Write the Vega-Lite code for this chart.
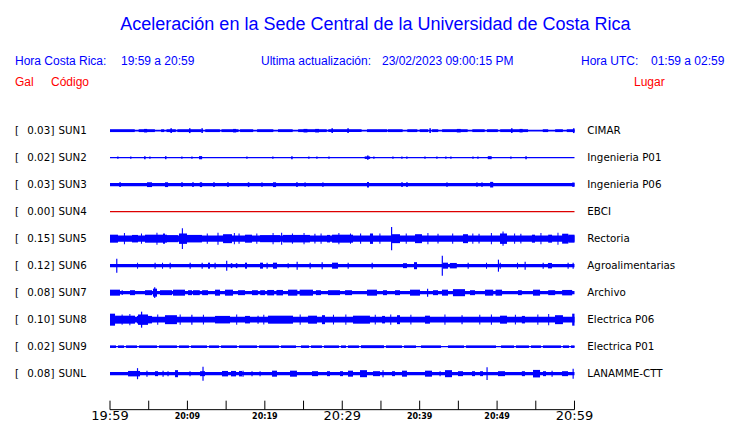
{
"$schema": "https://vega.github.io/schema/vega-lite/v6.json",
"width": 740, "height": 423, "padding": 0, "autosize": {"type": "none"},
"background": "white",
"config": {"view": {"stroke": null}},
"datasets": {
"info": [{"hora_cr": "19:59 a 20:59", "actualizacion": "23/02/2023 09:00:15 PM", "hora_utc": "01:59 a 02:59"}],
"estaciones": [
{"s": "SUN1", "gal": 0.03, "lugar": "CIMAR", "r": 1, "estado": "activa"},
{"s": "SUN2", "gal": 0.02, "lugar": "Ingenieria P01", "r": 2, "estado": "activa"},
{"s": "SUN3", "gal": 0.03, "lugar": "Ingenieria P06", "r": 3, "estado": "activa"},
{"s": "SUN4", "gal": 0.00, "lugar": "EBCI", "r": 4, "estado": "sin señal"},
{"s": "SUN5", "gal": 0.15, "lugar": "Rectoria", "r": 5, "estado": "activa"},
{"s": "SUN6", "gal": 0.12, "lugar": "Agroalimentarias", "r": 6, "estado": "activa"},
{"s": "SUN7", "gal": 0.08, "lugar": "Archivo", "r": 7, "estado": "activa"},
{"s": "SUN8", "gal": 0.10, "lugar": "Electrica P06", "r": 8, "estado": "activa"},
{"s": "SUN9", "gal": 0.02, "lugar": "Electrica P01", "r": 9, "estado": "activa"},
{"s": "SUNL", "gal": 0.08, "lugar": "LANAMME-CTT", "r": 10, "estado": "activa"}
],
"marcas": [
{"t": 0, "h": "19:59", "tipo": "mayor"}, {"t": 5, "h": "", "tipo": "menor"},
{"t": 10, "h": "20:09", "tipo": "etiqueta"}, {"t": 15, "h": "", "tipo": "menor"},
{"t": 20, "h": "20:19", "tipo": "etiqueta"}, {"t": 25, "h": "", "tipo": "menor"},
{"t": 30, "h": "20:29", "tipo": "mayor"}, {"t": 35, "h": "", "tipo": "menor"},
{"t": 40, "h": "20:39", "tipo": "etiqueta"}, {"t": 45, "h": "", "tipo": "menor"},
{"t": 50, "h": "20:49", "tipo": "etiqueta"}, {"t": 55, "h": "", "tipo": "menor"},
{"t": 60, "h": "20:59", "tipo": "mayor"}
],
"segmentos": [
{"s":"SUN1","t0":0,"t1":60,"a":0.011},
{"s":"SUN1","t0":0,"t1":3.2,"a":0.0175},{"s":"SUN1","t0":3.7,"t1":5.8,"a":0.0175},{"s":"SUN1","t0":6.6,"t1":7.0,"a":0.0175},
{"s":"SUN1","t0":7.3,"t1":8.5,"a":0.0175},{"s":"SUN1","t0":8.7,"t1":11.8,"a":0.0175},{"s":"SUN1","t0":12.3,"t1":14.2,"a":0.0175},
{"s":"SUN1","t0":14.4,"t1":16.6,"a":0.0175},{"s":"SUN1","t0":16.8,"t1":18.5,"a":0.0175},{"s":"SUN1","t0":19,"t1":21.1,"a":0.0175},
{"s":"SUN1","t0":21.7,"t1":23.6,"a":0.0175},{"s":"SUN1","t0":24.3,"t1":28,"a":0.0175},{"s":"SUN1","t0":28.2,"t1":32.5,"a":0.0175},
{"s":"SUN1","t0":33.2,"t1":35.8,"a":0.0175},{"s":"SUN1","t0":35.9,"t1":37.8,"a":0.0175},{"s":"SUN1","t0":38.4,"t1":39.7,"a":0.0175},
{"s":"SUN1","t0":40,"t1":41.1,"a":0.0175},{"s":"SUN1","t0":41.6,"t1":42.4,"a":0.0175},{"s":"SUN1","t0":42.9,"t1":46.2,"a":0.0175},
{"s":"SUN1","t0":46.8,"t1":48.4,"a":0.0175},{"s":"SUN1","t0":48.7,"t1":50.1,"a":0.0175},{"s":"SUN1","t0":50.4,"t1":54,"a":0.0175},
{"s":"SUN1","t0":55.9,"t1":56.6,"a":0.0175},{"s":"SUN1","t0":57.5,"t1":58.5,"a":0.0175},{"s":"SUN1","t0":59,"t1":60,"a":0.0175},
{"s":"SUN1","t0":7.8,"t1":8.0,"a":0.03},{"s":"SUN1","t0":10.2,"t1":10.4,"a":0.03},{"s":"SUN1","t0":11.8,"t1":12.0,"a":0.03},
{"s":"SUN1","t0":28.6,"t1":28.8,"a":0.03},{"s":"SUN1","t0":30.65,"t1":30.85,"a":0.03},{"s":"SUN1","t0":41.25,"t1":41.45,"a":0.03},
{"s":"SUN1","t0":51.8,"t1":52.0,"a":0.03},{"s":"SUN1","t0":59.8,"t1":60,"a":0.03},
{"s":"SUN1","t0":4.4,"t1":4.8,"a":0.022},{"s":"SUN1","t0":15.9,"t1":16.3,"a":0.022},{"s":"SUN1","t0":25,"t1":25.5,"a":0.022},
{"s":"SUN1","t0":44.8,"t1":45.3,"a":0.022},{"s":"SUN1","t0":52.9,"t1":53.3,"a":0.022},{"s":"SUN1","t0":26.5,"t1":27,"a":0.022},

{"s":"SUN2","t0":0,"t1":60,"a":0.007},
{"s":"SUN2","t0":0.93,"t1":1.1,"a":0.014},{"s":"SUN2","t0":2.6,"t1":2.77,"a":0.014},{"s":"SUN2","t0":4.4,"t1":4.6,"a":0.019},
{"s":"SUN2","t0":5.07,"t1":5.24,"a":0.014},{"s":"SUN2","t0":7.1,"t1":7.3,"a":0.019},{"s":"SUN2","t0":9.2,"t1":9.37,"a":0.014},
{"s":"SUN2","t0":10.5,"t1":10.67,"a":0.014},{"s":"SUN2","t0":11.5,"t1":11.9,"a":0.02},{"s":"SUN2","t0":17.6,"t1":17.77,"a":0.014},
{"s":"SUN2","t0":20.95,"t1":21.12,"a":0.014},{"s":"SUN2","t0":23.4,"t1":23.6,"a":0.019},{"s":"SUN2","t0":25.6,"t1":25.77,"a":0.014},
{"s":"SUN2","t0":26.64,"t1":26.81,"a":0.014},{"s":"SUN2","t0":28.2,"t1":28.37,"a":0.014},{"s":"SUN2","t0":32.9,"t1":33.6,"a":0.016},
{"s":"SUN2","t0":33.2,"t1":33.4,"a":0.026},{"s":"SUN2","t0":34,"t1":34.17,"a":0.014},{"s":"SUN2","t0":36.46,"t1":36.63,"a":0.014},
{"s":"SUN2","t0":37.62,"t1":37.79,"a":0.014},{"s":"SUN2","t0":38.26,"t1":38.43,"a":0.014},{"s":"SUN2","t0":40.6,"t1":40.77,"a":0.014},
{"s":"SUN2","t0":42.14,"t1":42.31,"a":0.014},{"s":"SUN2","t0":43.3,"t1":43.47,"a":0.014},{"s":"SUN2","t0":43.95,"t1":44.12,"a":0.014},
{"s":"SUN2","t0":46.8,"t1":46.97,"a":0.014},{"s":"SUN2","t0":47.44,"t1":47.61,"a":0.014},{"s":"SUN2","t0":48.8,"t1":49.3,"a":0.019},
{"s":"SUN2","t0":51.7,"t1":51.87,"a":0.014},{"s":"SUN2","t0":53.64,"t1":53.84,"a":0.019},

{"s":"SUN3","t0":0,"t1":60,"a":0.021},
{"s":"SUN3","t0":1.2,"t1":1.4,"a":0.03},{"s":"SUN3","t0":4.78,"t1":5.43,"a":0.03},{"s":"SUN3","t0":7.1,"t1":7.5,"a":0.03},
{"s":"SUN3","t0":9.2,"t1":9.4,"a":0.03},{"s":"SUN3","t0":10.62,"t1":10.82,"a":0.03},{"s":"SUN3","t0":11.6,"t1":11.9,"a":0.03},
{"s":"SUN3","t0":13.33,"t1":13.53,"a":0.03},{"s":"SUN3","t0":15.14,"t1":15.34,"a":0.03},{"s":"SUN3","t0":17.8,"t1":18,"a":0.03},
{"s":"SUN3","t0":19.53,"t1":19.73,"a":0.026},{"s":"SUN3","t0":21.05,"t1":21.45,"a":0.03},{"s":"SUN3","t0":24.05,"t1":24.25,"a":0.03},
{"s":"SUN3","t0":25.1,"t1":25.3,"a":0.027},{"s":"SUN3","t0":27.4,"t1":27.6,"a":0.027},{"s":"SUN3","t0":33.2,"t1":33.45,"a":0.035},
{"s":"SUN3","t0":37.62,"t1":37.82,"a":0.03},{"s":"SUN3","t0":38.26,"t1":38.46,"a":0.03},{"s":"SUN3","t0":43.43,"t1":43.63,"a":0.027},
{"s":"SUN3","t0":47.3,"t1":47.5,"a":0.027},{"s":"SUN3","t0":47.95,"t1":48.15,"a":0.027},{"s":"SUN3","t0":49.1,"t1":49.5,"a":0.035},
{"s":"SUN3","t0":59.7,"t1":60,"a":0.027},

{"s":"SUN4","t0":0,"t1":60,"a":0.008},

{"s":"SUN5","t0":0,"t1":60,"a":0.04},
{"s":"SUN5","t0":0,"t1":1.03,"a":0.05},{"s":"SUN5","t0":2.84,"t1":3.62,"a":0.047},{"s":"SUN5","t0":4.52,"t1":7.36,"a":0.05},
{"s":"SUN5","t0":6.85,"t1":7.1,"a":0.065},{"s":"SUN5","t0":7.36,"t1":8.78,"a":0.044},{"s":"SUN5","t0":8.91,"t1":9.95,"a":0.065},
{"s":"SUN5","t0":9.28,"t1":9.42,"a":0.13},{"s":"SUN5","t0":9.95,"t1":11.88,"a":0.047},{"s":"SUN5","t0":13.88,"t1":14.02,"a":0.075},
{"s":"SUN5","t0":14.6,"t1":15.76,"a":0.056},{"s":"SUN5","t0":16.6,"t1":16.74,"a":0.065},{"s":"SUN5","t0":17.44,"t1":18.34,"a":0.05},
{"s":"SUN5","t0":19.38,"t1":21.96,"a":0.044},{"s":"SUN5","t0":22.1,"t1":22.24,"a":0.075},{"s":"SUN5","t0":22.35,"t1":25.83,"a":0.047},
{"s":"SUN5","t0":26.4,"t1":26.54,"a":0.06},{"s":"SUN5","t0":28.03,"t1":28.42,"a":0.047},{"s":"SUN5","t0":28.68,"t1":31.39,"a":0.05},
{"s":"SUN5","t0":32.3,"t1":32.44,"a":0.065},{"s":"SUN5","t0":33.58,"t1":33.97,"a":0.065},{"s":"SUN5","t0":36.3,"t1":36.45,"a":0.146},
{"s":"SUN5","t0":36.43,"t1":37.46,"a":0.056},{"s":"SUN5","t0":39.4,"t1":40.3,"a":0.056},{"s":"SUN5","t0":42.3,"t1":42.44,"a":0.06},
{"s":"SUN5","t0":45.6,"t1":46.24,"a":0.056},{"s":"SUN5","t0":47.6,"t1":47.74,"a":0.06},{"s":"SUN5","t0":50.38,"t1":51.28,"a":0.065},
{"s":"SUN5","t0":50.7,"t1":50.84,"a":0.09},{"s":"SUN5","t0":53,"t1":53.14,"a":0.06},{"s":"SUN5","t0":54.5,"t1":54.9,"a":0.05},
{"s":"SUN5","t0":56.6,"t1":57.1,"a":0.05},{"s":"SUN5","t0":58.4,"t1":59.2,"a":0.062},{"s":"SUN5","t0":59.2,"t1":60,"a":0.05},
{"s":"SUN5","t0":1.8,"t1":1.93,"a":0.07},{"s":"SUN5","t0":4.0,"t1":4.13,"a":0.065},{"s":"SUN5","t0":6.0,"t1":6.13,"a":0.075},
{"s":"SUN5","t0":12.5,"t1":12.63,"a":0.065},{"s":"SUN5","t0":16.0,"t1":16.13,"a":0.07},{"s":"SUN5","t0":18.9,"t1":19.03,"a":0.065},
{"s":"SUN5","t0":21.0,"t1":21.13,"a":0.07},{"s":"SUN5","t0":23.5,"t1":23.63,"a":0.065},{"s":"SUN5","t0":25.0,"t1":25.13,"a":0.07},
{"s":"SUN5","t0":27.2,"t1":27.33,"a":0.065},{"s":"SUN5","t0":29.5,"t1":29.63,"a":0.07},{"s":"SUN5","t0":31.0,"t1":31.13,"a":0.065},
{"s":"SUN5","t0":34.8,"t1":34.93,"a":0.065},{"s":"SUN5","t0":38.2,"t1":38.33,"a":0.065},{"s":"SUN5","t0":41.0,"t1":41.13,"a":0.07},
{"s":"SUN5","t0":44.2,"t1":44.33,"a":0.065},{"s":"SUN5","t0":46.8,"t1":46.93,"a":0.065},{"s":"SUN5","t0":49.2,"t1":49.33,"a":0.07},
{"s":"SUN5","t0":52.2,"t1":52.33,"a":0.065},{"s":"SUN5","t0":55.6,"t1":55.73,"a":0.07},{"s":"SUN5","t0":57.8,"t1":57.93,"a":0.075},

{"s":"SUN6","t0":0,"t1":60,"a":0.021},
{"s":"SUN6","t0":0.8,"t1":0.95,"a":0.088},{"s":"SUN6","t0":15.0,"t1":15.15,"a":0.062},{"s":"SUN6","t0":42.85,"t1":43.0,"a":0.125},
{"s":"SUN6","t0":50.1,"t1":50.25,"a":0.075},{"s":"SUN6","t0":53.55,"t1":53.7,"a":0.05},
{"s":"SUN6","t0":3.5,"t1":3.62,"a":0.0375},{"s":"SUN6","t0":5.75,"t1":5.9,"a":0.0375},{"s":"SUN6","t0":6.72,"t1":6.85,"a":0.0375},
{"s":"SUN6","t0":7.7,"t1":7.85,"a":0.0375},{"s":"SUN6","t0":10.28,"t1":10.43,"a":0.0375},{"s":"SUN6","t0":11.83,"t1":11.98,"a":0.0375},
{"s":"SUN6","t0":12.66,"t1":12.92,"a":0.0375},{"s":"SUN6","t0":13.5,"t1":13.65,"a":0.0375},{"s":"SUN6","t0":15.6,"t1":15.8,"a":0.031},
{"s":"SUN6","t0":16.25,"t1":16.45,"a":0.031},{"s":"SUN6","t0":17.44,"t1":17.7,"a":0.0375},{"s":"SUN6","t0":19.38,"t1":19.76,"a":0.0375},
{"s":"SUN6","t0":20.22,"t1":20.37,"a":0.0375},{"s":"SUN6","t0":21.05,"t1":21.57,"a":0.0375},{"s":"SUN6","t0":22.94,"t1":23.09,"a":0.031},
{"s":"SUN6","t0":24.1,"t1":24.25,"a":0.05},{"s":"SUN6","t0":25.78,"t1":25.93,"a":0.0375},{"s":"SUN6","t0":27.33,"t1":27.48,"a":0.044},
{"s":"SUN6","t0":28.68,"t1":29.45,"a":0.0375},{"s":"SUN6","t0":30.69,"t1":30.84,"a":0.0375},{"s":"SUN6","t0":33.79,"t1":33.94,"a":0.0375},
{"s":"SUN6","t0":37.85,"t1":38.36,"a":0.031},{"s":"SUN6","t0":39.27,"t1":39.66,"a":0.044},{"s":"SUN6","t0":43.01,"t1":43.66,"a":0.0375},
{"s":"SUN6","t0":43.9,"t1":44.8,"a":0.034},{"s":"SUN6","t0":46.19,"t1":46.34,"a":0.0375},{"s":"SUN6","t0":48.57,"t1":48.7,"a":0.0375},
{"s":"SUN6","t0":50.33,"t1":50.48,"a":0.0375},{"s":"SUN6","t0":52.57,"t1":52.7,"a":0.0375},{"s":"SUN6","t0":55.88,"t1":56.03,"a":0.0375},
{"s":"SUN6","t0":56.57,"t1":57.09,"a":0.034},{"s":"SUN6","t0":59.1,"t1":59.25,"a":0.0375},{"s":"SUN6","t0":59.75,"t1":59.9,"a":0.0375},

{"s":"SUN7","t0":0,"t1":60,"a":0.02},
{"s":"SUN7","t0":0,"t1":1.29,"a":0.0375},{"s":"SUN7","t0":1.5,"t1":1.65,"a":0.03},{"s":"SUN7","t0":2.58,"t1":3.23,"a":0.031},
{"s":"SUN7","t0":4.52,"t1":5.43,"a":0.031},{"s":"SUN7","t0":5.55,"t1":6.07,"a":0.05},{"s":"SUN7","t0":5.7,"t1":5.85,"a":0.067},
{"s":"SUN7","t0":6.46,"t1":8.01,"a":0.031},{"s":"SUN7","t0":8.14,"t1":9.69,"a":0.0375},{"s":"SUN7","t0":10.08,"t1":10.59,"a":0.031},
{"s":"SUN7","t0":10.72,"t1":11.6,"a":0.031},{"s":"SUN7","t0":11.9,"t1":12.66,"a":0.031},{"s":"SUN7","t0":13.56,"t1":14.21,"a":0.0375},
{"s":"SUN7","t0":14.85,"t1":15.89,"a":0.0375},{"s":"SUN7","t0":16.53,"t1":17.44,"a":0.031},{"s":"SUN7","t0":18.34,"t1":19.1,"a":0.031},
{"s":"SUN7","t0":19.4,"t1":20.02,"a":0.031},{"s":"SUN7","t0":20.3,"t1":21.2,"a":0.034},{"s":"SUN7","t0":21.5,"t1":22.35,"a":0.034},
{"s":"SUN7","t0":22.99,"t1":24.2,"a":0.0375},{"s":"SUN7","t0":24.5,"t1":26.22,"a":0.0375},{"s":"SUN7","t0":26.6,"t1":27.25,"a":0.031},
{"s":"SUN7","t0":28.16,"t1":29.71,"a":0.031},{"s":"SUN7","t0":30.36,"t1":31.26,"a":0.031},{"s":"SUN7","t0":33.2,"t1":34.49,"a":0.0375},
{"s":"SUN7","t0":35.26,"t1":35.78,"a":0.031},{"s":"SUN7","t0":36.81,"t1":37.46,"a":0.031},{"s":"SUN7","t0":38.75,"t1":40.04,"a":0.0375},
{"s":"SUN7","t0":40.95,"t1":41.1,"a":0.05},{"s":"SUN7","t0":41.72,"t1":42.37,"a":0.031},{"s":"SUN7","t0":42.88,"t1":43.66,"a":0.0375},
{"s":"SUN7","t0":44.3,"t1":45.86,"a":0.044},{"s":"SUN7","t0":46.5,"t1":47.15,"a":0.031},{"s":"SUN7","t0":48.44,"t1":49.5,"a":0.0375},
{"s":"SUN7","t0":49.8,"t1":50.64,"a":0.0375},{"s":"SUN7","t0":52.7,"t1":53.2,"a":0.031},{"s":"SUN7","t0":54.64,"t1":55.55,"a":0.0375},
{"s":"SUN7","t0":56.6,"t1":57.5,"a":0.031},{"s":"SUN7","t0":58.4,"t1":59.7,"a":0.034},

{"s":"SUN8","t0":0,"t1":60,"a":0.036},
{"s":"SUN8","t0":0,"t1":0.65,"a":0.075},{"s":"SUN8","t0":0.65,"t1":3.23,"a":0.05},{"s":"SUN8","t0":3.49,"t1":5.43,"a":0.047},
{"s":"SUN8","t0":3.62,"t1":4.91,"a":0.065},{"s":"SUN8","t0":4.0,"t1":4.16,"a":0.1},{"s":"SUN8","t0":7.1,"t1":8.65,"a":0.056},
{"s":"SUN8","t0":10.5,"t1":10.65,"a":0.0625},{"s":"SUN8","t0":13.56,"t1":15.5,"a":0.047},{"s":"SUN8","t0":17.44,"t1":18.08,"a":0.047},
{"s":"SUN8","t0":19.05,"t1":19.2,"a":0.05},{"s":"SUN8","t0":20.41,"t1":23.64,"a":0.05},{"s":"SUN8","t0":25.58,"t1":26.74,"a":0.05},
{"s":"SUN8","t0":27.38,"t1":27.77,"a":0.056},{"s":"SUN8","t0":31.39,"t1":33.58,"a":0.05},{"s":"SUN8","t0":35.14,"t1":35.52,"a":0.047},
{"s":"SUN8","t0":37.07,"t1":37.46,"a":0.056},{"s":"SUN8","t0":40.69,"t1":41.33,"a":0.05},{"s":"SUN8","t0":45.4,"t1":45.55,"a":0.056},
{"s":"SUN8","t0":50.38,"t1":51.28,"a":0.05},{"s":"SUN8","t0":53.2,"t1":53.6,"a":0.047},{"s":"SUN8","t0":57.48,"t1":58.51,"a":0.056},
{"s":"SUN8","t0":59.7,"t1":60,"a":0.075},
{"s":"SUN8","t0":1.5,"t1":1.63,"a":0.065},{"s":"SUN8","t0":2.5,"t1":2.63,"a":0.07},{"s":"SUN8","t0":6.1,"t1":6.23,"a":0.065},
{"s":"SUN8","t0":9.0,"t1":9.13,"a":0.065},{"s":"SUN8","t0":12.0,"t1":12.13,"a":0.06},{"s":"SUN8","t0":16.3,"t1":16.43,"a":0.065},
{"s":"SUN8","t0":19.8,"t1":19.93,"a":0.06},{"s":"SUN8","t0":24.5,"t1":24.63,"a":0.065},{"s":"SUN8","t0":28.8,"t1":28.93,"a":0.06},
{"s":"SUN8","t0":30.4,"t1":30.53,"a":0.065},{"s":"SUN8","t0":34.2,"t1":34.33,"a":0.06},{"s":"SUN8","t0":36.2,"t1":36.33,"a":0.065},
{"s":"SUN8","t0":38.8,"t1":38.93,"a":0.06},{"s":"SUN8","t0":43.2,"t1":43.33,"a":0.065},{"s":"SUN8","t0":47.7,"t1":47.83,"a":0.06},
{"s":"SUN8","t0":49.2,"t1":49.33,"a":0.065},{"s":"SUN8","t0":52.3,"t1":52.43,"a":0.06},{"s":"SUN8","t0":55.2,"t1":55.33,"a":0.065},
{"s":"SUN8","t0":56.6,"t1":56.73,"a":0.07},

{"s":"SUN9","t0":0,"t1":60,"a":0.008},
{"s":"SUN9","t0":0,"t1":0.78,"a":0.016},{"s":"SUN9","t0":1.03,"t1":1.81,"a":0.016},{"s":"SUN9","t0":2.07,"t1":3.49,"a":0.016},
{"s":"SUN9","t0":3.75,"t1":6.07,"a":0.016},{"s":"SUN9","t0":6.33,"t1":8.65,"a":0.016},{"s":"SUN9","t0":8.91,"t1":10.2,"a":0.016},
{"s":"SUN9","t0":10.46,"t1":12.53,"a":0.016},{"s":"SUN9","t0":12.79,"t1":14.08,"a":0.016},{"s":"SUN9","t0":14.34,"t1":16.4,"a":0.016},
{"s":"SUN9","t0":16.66,"t1":18.99,"a":0.016},{"s":"SUN9","t0":19.25,"t1":21.83,"a":0.016},{"s":"SUN9","t0":22.09,"t1":24.03,"a":0.016},
{"s":"SUN9","t0":24.67,"t1":25.71,"a":0.016},{"s":"SUN9","t0":25.96,"t1":27.38,"a":0.016},{"s":"SUN9","t0":27.64,"t1":29.58,"a":0.016},
{"s":"SUN9","t0":29.84,"t1":30.48,"a":0.016},{"s":"SUN9","t0":30.74,"t1":32.16,"a":0.016},{"s":"SUN9","t0":32.42,"t1":35.39,"a":0.018},
{"s":"SUN9","t0":35.65,"t1":37.72,"a":0.016},{"s":"SUN9","t0":37.98,"t1":39.53,"a":0.016},{"s":"SUN9","t0":40.17,"t1":42.76,"a":0.016},
{"s":"SUN9","t0":43.66,"t1":45.73,"a":0.016},{"s":"SUN9","t0":45.99,"t1":49.86,"a":0.016},{"s":"SUN9","t0":50.51,"t1":52.19,"a":0.016},
{"s":"SUN9","t0":52.44,"t1":54.12,"a":0.016},{"s":"SUN9","t0":54.38,"t1":55.67,"a":0.016},{"s":"SUN9","t0":55.93,"t1":58.26,"a":0.016},
{"s":"SUN9","t0":58.51,"t1":59.29,"a":0.016},{"s":"SUN9","t0":59.55,"t1":60,"a":0.016},

{"s":"SUNL","t0":0,"t1":60,"a":0.021},
{"s":"SUNL","t0":3.48,"t1":3.63,"a":0.069},{"s":"SUNL","t0":11.94,"t1":12.09,"a":0.0875},{"s":"SUNL","t0":48.63,"t1":48.78,"a":0.08},
{"s":"SUNL","t0":59.75,"t1":59.9,"a":0.0625},
{"s":"SUNL","t0":2.33,"t1":3.88,"a":0.034},{"s":"SUNL","t0":4.7,"t1":4.85,"a":0.0375},{"s":"SUNL","t0":5.81,"t1":6.2,"a":0.031},
{"s":"SUNL","t0":6.78,"t1":6.93,"a":0.0375},{"s":"SUNL","t0":7.42,"t1":7.57,"a":0.031},{"s":"SUNL","t0":8.4,"t1":8.78,"a":0.044},
{"s":"SUNL","t0":10.26,"t1":10.41,"a":0.031},{"s":"SUNL","t0":11.63,"t1":12.27,"a":0.031},{"s":"SUNL","t0":14.47,"t1":15.24,"a":0.034},
{"s":"SUNL","t0":15.63,"t1":16.28,"a":0.034},{"s":"SUNL","t0":16.66,"t1":17.05,"a":0.034},{"s":"SUNL","t0":17.11,"t1":17.26,"a":0.0375},
{"s":"SUNL","t0":18.27,"t1":18.42,"a":0.031},{"s":"SUNL","t0":19.31,"t1":19.46,"a":0.031},{"s":"SUNL","t0":20.93,"t1":21.57,"a":0.0375},
{"s":"SUNL","t0":23.25,"t1":24.15,"a":0.0375},{"s":"SUNL","t0":26.09,"t1":26.87,"a":0.031},{"s":"SUNL","t0":28.03,"t1":28.42,"a":0.031},
{"s":"SUNL","t0":29.71,"t1":30.1,"a":0.031},{"s":"SUNL","t0":30.74,"t1":31.39,"a":0.0375},{"s":"SUNL","t0":32.29,"t1":33.2,"a":0.044},
{"s":"SUNL","t0":33.97,"t1":34.88,"a":0.031},{"s":"SUNL","t0":35.19,"t1":35.34,"a":0.044},{"s":"SUNL","t0":36.43,"t1":36.81,"a":0.031},
{"s":"SUNL","t0":37.72,"t1":38.36,"a":0.0375},{"s":"SUNL","t0":40.69,"t1":41.59,"a":0.0375},{"s":"SUNL","t0":42.56,"t1":42.71,"a":0.031},
{"s":"SUNL","t0":43.27,"t1":44.18,"a":0.044},{"s":"SUNL","t0":44.95,"t1":45.6,"a":0.031},{"s":"SUNL","t0":46.76,"t1":47.15,"a":0.031},
{"s":"SUNL","t0":47.8,"t1":48.18,"a":0.031},{"s":"SUNL","t0":50.12,"t1":51.02,"a":0.031},{"s":"SUNL","t0":53.2,"t1":53.6,"a":0.031},
{"s":"SUNL","t0":54.64,"t1":55.55,"a":0.047},{"s":"SUNL","t0":55.93,"t1":56.32,"a":0.031},{"s":"SUNL","t0":57.03,"t1":57.18,"a":0.0375},
{"s":"SUNL","t0":58.39,"t1":59.16,"a":0.031}
]
},
"layer": [
{
"data": {"name": "segmentos"},
"transform": [{"lookup": "s", "from": {"data": {"name": "estaciones"}, "key": "s", "fields": ["r", "estado"]}}],
"mark": {"type": "rule", "strokeCap": "butt"},
"encoding": {
"x": {"field": "t0", "type": "quantitative", "scale": {"domain": [-14.209, 81.378], "nice": false, "zero": false}, "axis": null},
"x2": {"field": "t1"},
"y": {"field": "r", "type": "quantitative", "scale": {"domain": [-3.84, 11.827], "nice": false, "zero": false, "reverse": true}, "axis": null},
"size": {"field": "a", "type": "quantitative", "scale": {"domain": [0, 0.15], "range": [0, 24]}, "legend": null},
"color": {"field": "estado", "type": "nominal", "scale": {"domain": ["activa", "sin señal"], "range": ["#0000ff", "#dd0000"]}, "legend": null}
}
},
{
"data": {"name": "marcas"},
"mark": {"type": "rule", "color": "black", "strokeWidth": 1},
"encoding": {
"x": {"field": "t", "type": "quantitative"},
"y": {"datum": 11.0, "type": "quantitative"},
"y2": {"datum": 11.333}
}
},
{
"data": {"name": "info"},
"mark": {"type": "rule", "color": "black", "strokeWidth": 1},
"encoding": {
"x": {"datum": 0, "type": "quantitative"},
"x2": {"datum": 60},
"y": {"datum": 11.333, "type": "quantitative"}
}
},
{
"data": {"name": "marcas"},
"transform": [{"filter": {"field": "tipo", "equal": "mayor"}}],
"mark": {"type": "text", "font": "DejaVu Sans", "fontSize": 13, "align": "center", "baseline": "alphabetic", "color": "black"},
"encoding": {
"x": {"field": "t", "type": "quantitative"},
"y": {"datum": 11.71, "type": "quantitative"},
"text": {"field": "h"}
}
},
{
"data": {"name": "marcas"},
"transform": [{"filter": {"field": "tipo", "equal": "etiqueta"}}],
"mark": {"type": "text", "font": "DejaVu Sans", "fontSize": 8, "fontWeight": "bold", "align": "center", "baseline": "alphabetic", "color": "black"},
"encoding": {
"x": {"field": "t", "type": "quantitative"},
"y": {"datum": 11.68, "type": "quantitative"},
"text": {"field": "h"}
}
},
{
"data": {"name": "estaciones"},
"mark": {"type": "text", "font": "DejaVu Sans", "fontSize": 10.3, "align": "left", "baseline": "middle", "color": "black"},
"encoding": {
"x": {"datum": -12.271, "type": "quantitative"},
"y": {"field": "r", "type": "quantitative"},
"text": {"value": "["}
}
},
{
"data": {"name": "estaciones"},
"mark": {"type": "text", "font": "DejaVu Sans", "fontSize": 10.3, "align": "left", "baseline": "middle", "color": "black"},
"encoding": {
"x": {"datum": -10.683, "type": "quantitative"},
"y": {"field": "r", "type": "quantitative"},
"text": {"field": "gal", "type": "quantitative", "format": ".2f"}
}
},
{
"data": {"name": "estaciones"},
"mark": {"type": "text", "font": "DejaVu Sans", "fontSize": 10.3, "align": "left", "baseline": "middle", "color": "black"},
"encoding": {
"x": {"datum": -7.686, "type": "quantitative"},
"y": {"field": "r", "type": "quantitative"},
"text": {"value": "]"}
}
},
{
"data": {"name": "estaciones"},
"mark": {"type": "text", "font": "DejaVu Sans", "fontSize": 10.3, "align": "left", "baseline": "middle", "color": "black"},
"encoding": {
"x": {"datum": -6.652, "type": "quantitative"},
"y": {"field": "r", "type": "quantitative"},
"text": {"field": "s"}
}
},
{
"data": {"name": "estaciones"},
"mark": {"type": "text", "font": "DejaVu Sans", "fontSize": 10.3, "align": "left", "baseline": "middle", "color": "black"},
"encoding": {
"x": {"datum": 61.654, "type": "quantitative"},
"y": {"field": "r", "type": "quantitative"},
"text": {"field": "lugar"}
}
},
{
"data": {"name": "info"},
"mark": {"type": "text", "font": "Liberation Sans", "fontSize": 18, "align": "center", "baseline": "alphabetic", "color": "#0000ff"},
"encoding": {
"x": {"datum": 34.29, "type": "quantitative"},
"y": {"datum": -2.741, "type": "quantitative"},
"text": {"value": "Aceleración en la Sede Central de la Universidad de Costa Rica"}
}
},
{
"data": {"name": "info"},
"mark": {"type": "text", "font": "Liberation Sans", "fontSize": 12, "align": "left", "baseline": "alphabetic", "color": "#0000ff"},
"encoding": {
"x": {"datum": -12.271, "type": "quantitative"},
"y": {"datum": -1.426, "type": "quantitative"},
"text": {"value": "Hora Costa Rica:"}
}
},
{
"data": {"name": "info"},
"mark": {"type": "text", "font": "Liberation Sans", "fontSize": 12, "align": "left", "baseline": "alphabetic", "color": "#0000ff"},
"encoding": {
"x": {"datum": 1.421, "type": "quantitative"},
"y": {"datum": -1.426, "type": "quantitative"},
"text": {"field": "hora_cr"}
}
},
{
"data": {"name": "info"},
"mark": {"type": "text", "font": "Liberation Sans", "fontSize": 12, "align": "left", "baseline": "alphabetic", "color": "#0000ff"},
"encoding": {
"x": {"datum": 19.505, "type": "quantitative"},
"y": {"datum": -1.426, "type": "quantitative"},
"text": {"value": "Ultima actualización:"}
}
},
{
"data": {"name": "info"},
"mark": {"type": "text", "font": "Liberation Sans", "fontSize": 12, "align": "left", "baseline": "alphabetic", "color": "#0000ff"},
"encoding": {
"x": {"datum": 35.134, "type": "quantitative"},
"y": {"datum": -1.426, "type": "quantitative"},
"text": {"field": "actualizacion"}
}
},
{
"data": {"name": "info"},
"mark": {"type": "text", "font": "Liberation Sans", "fontSize": 12, "align": "left", "baseline": "alphabetic", "color": "#0000ff"},
"encoding": {
"x": {"datum": 60.839, "type": "quantitative"},
"y": {"datum": -1.426, "type": "quantitative"},
"text": {"value": "Hora UTC:"}
}
},
{
"data": {"name": "info"},
"mark": {"type": "text", "font": "Liberation Sans", "fontSize": 12, "align": "left", "baseline": "alphabetic", "color": "#0000ff"},
"encoding": {
"x": {"datum": 69.88, "type": "quantitative"},
"y": {"datum": -1.426, "type": "quantitative"},
"text": {"field": "hora_utc"}
}
},
{
"data": {"name": "info"},
"mark": {"type": "text", "font": "Liberation Sans", "fontSize": 12, "align": "left", "baseline": "alphabetic", "color": "#ff0000"},
"encoding": {
"x": {"datum": -12.271, "type": "quantitative"},
"y": {"datum": -0.648, "type": "quantitative"},
"text": {"value": "Gal"}
}
},
{
"data": {"name": "info"},
"mark": {"type": "text", "font": "Liberation Sans", "fontSize": 12, "align": "left", "baseline": "alphabetic", "color": "#ff0000"},
"encoding": {
"x": {"datum": -7.621, "type": "quantitative"},
"y": {"datum": -0.648, "type": "quantitative"},
"text": {"value": "Código"}
}
},
{
"data": {"name": "info"},
"mark": {"type": "text", "font": "Liberation Sans", "fontSize": 12, "align": "left", "baseline": "alphabetic", "color": "#ff0000"},
"encoding": {
"x": {"datum": 67.686, "type": "quantitative"},
"y": {"datum": -0.648, "type": "quantitative"},
"text": {"value": "Lugar"}
}
}
]
}
